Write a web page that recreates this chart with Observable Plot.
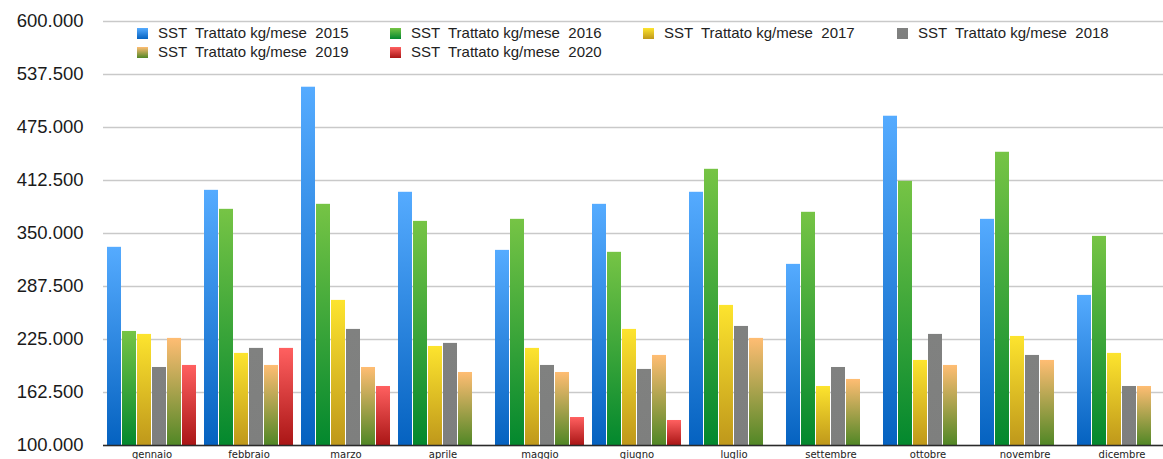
<!DOCTYPE html>
<html>
<head>
<meta charset="utf-8">
<script src="https://cdn.jsdelivr.net/npm/d3@7"></script>
<script src="https://cdn.jsdelivr.net/npm/@observablehq/plot@0.6"></script>
<style>
html, body { margin: 0; padding: 0; background: #fff; overflow: hidden; }
#wrap { position: relative; width: 1163px; height: 459px; overflow: hidden; }
#legend { position: absolute; left: 0; top: 0; width: 1163px; height: 70px; pointer-events: none;
  font-family: "Liberation Sans", Arial, Helvetica, sans-serif; font-size: 15px; color: #222; }
.item { position: absolute; display: flex; align-items: center; white-space: pre; height: 18px; line-height: 18px; }
.sw { width: 11px; height: 11px; margin-right: 10px; flex: none; }
</style>
</head>
<body>
<div id="wrap"><div id="chart"></div><div id="legend"></div></div>
<script>
// ---- data ----
const months = ["gennaio", "febbraio", "marzo", "aprile", "maggio", "giugno",
  "luglio", "settembre", "ottobre", "novembre", "dicembre"];
const years = ["2015", "2016", "2017", "2018", "2019", "2020"];
const v2015 = [333700, 400900, 522500, 398600, 330100, 384400, 398600, 313600, 488300, 366700, 277000];
const v2016 = [234500, 378500, 384400, 364300, 366700, 327800, 425700, 375000, 411500, 445800, 346600];
const v2017 = [231000, 208600, 271100, 216800, 214500, 236900, 265200, 169600, 200300, 228600, 208600];
const v2018 = [192000, 214500, 236900, 220400, 194400, 189700, 240400, 192000, 231000, 206200, 169600];
const v2019 = [226300, 194400, 192000, 186100, 186100, 206200, 226300, 177900, 194400, 200300, 169600];
const v2020 = [194400, 214500, 169600, null, 133000, 129500, null, null, null, null, null];
const yTicks = [100000, 162500, 225000, 287500, 350000, 412500, 475000, 537500, 600000];
const seriesLabel = "SST  Trattato kg/mese  ";

const series = {"2015": v2015, "2016": v2016, "2017": v2017, "2018": v2018, "2019": v2019, "2020": v2020};
const gradients = {
  "2015": ["#55abff", "#0562c0"],
  "2016": ["#76c445", "#03882e"],
  "2017": ["#fde42e", "#bf981b"],
  "2018": ["#808180", "#7e7f7e"],
  "2019": ["#ffbd73", "#518726"],
  "2020": ["#ff6060", "#aa1616"]
};

const data = years.flatMap(y => series[y].map((v, i) => ({month: months[i], year: y, value: v})))
  .filter(d => d.value != null);

const it = d3.formatLocale({decimal: ",", thousands: ".", grouping: [3], currency: ["€", ""]});
const fmt = it.format(",d");

const step = 97.5, left = 100;

const chart = Plot.plot({
  width: 1163,
  height: 459,
  marginTop: 21,
  marginBottom: 14,
  marginLeft: left,
  marginRight: 0,
  style: {background: "#fff", overflow: "hidden"},
  fx: {domain: months, range: [left, left + step * months.length], paddingInner: 0, paddingOuter: 0, label: null},
  x: {domain: years, paddingInner: 0.07, paddingOuter: 0.25, axis: null},
  y: {domain: [100000, 600000], axis: null},
  color: {type: "ordinal", domain: years, range: years.map(y => `url(#grad${y})`)},
  marks: [
    Plot.gridY(yTicks, {stroke: "#c9c9c9", strokeOpacity: 1, strokeWidth: 1.4}),
    Plot.axisY(yTicks, {tickSize: 0, tickPadding: 20, tickFormat: fmt, label: null,
      fontSize: 18.5, fontFamily: "Liberation Sans, Arial, sans-serif", fill: "#1a1a1a"}),
    Plot.barY(data, {fx: "month", x: "year", y1: 100000, y2: "value", fill: "year"}),
    Plot.ruleY([100000], {stroke: "#2a2a2a", strokeWidth: 1.6}),
    Plot.axisFx({anchor: "bottom", tickSize: 0, tickPadding: 5.5, label: null,
      fontSize: 10, fontFamily: "DejaVu Sans, sans-serif", fill: "#222"})
  ]
});

// gradients
const svg = d3.select(chart);
const defs = svg.insert("defs", ":first-child");
for (const y of years) {
  const g = defs.append("linearGradient").attr("id", `grad${y}`)
    .attr("x1", 0).attr("y1", 0).attr("x2", 0).attr("y2", 1);
  g.append("stop").attr("offset", "0%").attr("stop-color", gradients[y][0]);
  g.append("stop").attr("offset", "100%").attr("stop-color", gradients[y][1]);
}
document.getElementById("chart").appendChild(chart);

// legend
const legendPos = [
  {year: "2015", x: 137, y: 24}, {year: "2016", x: 390, y: 24},
  {year: "2017", x: 643, y: 24}, {year: "2018", x: 897, y: 24},
  {year: "2019", x: 137, y: 43}, {year: "2020", x: 390, y: 43}
];
const legend = d3.select("#legend");
for (const p of legendPos) {
  const item = legend.append("div").attr("class", "item")
    .style("left", p.x + "px").style("top", p.y + "px");
  item.append("div").attr("class", "sw")
    .style("background", `linear-gradient(to bottom, ${gradients[p.year][0]}, ${gradients[p.year][1]})`);
  item.append("span").text(seriesLabel + p.year);
}
</script>
</body>
</html>
